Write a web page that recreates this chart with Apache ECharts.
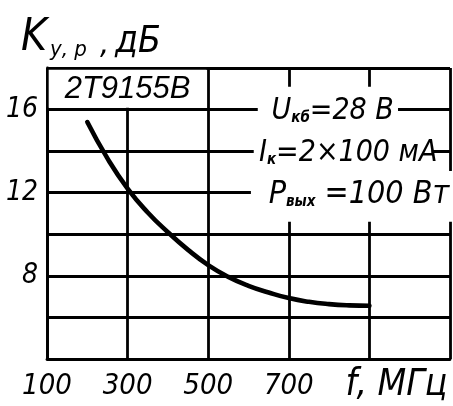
<!DOCTYPE html>
<html><head><meta charset="utf-8">
<script src="https://cdn.jsdelivr.net/npm/echarts@6/dist/echarts.min.js"></script>
<style>html,body{margin:0;padding:0;background:#fff}#c{width:453px;height:406px}</style>
</head><body><div id="c"></div>
<script>
// ---- data ----
const freqMHz = [200, 250, 300, 350, 400, 450, 500, 550, 600, 650, 700, 750, 800, 850, 900];
const gainDb  = [15.4, 13.65, 12.2, 11.05, 10.1, 9.25, 8.52, 7.95, 7.52, 7.2, 6.93, 6.75, 6.64, 6.58, 6.56];
const xTickLabels = ['100', '300', '500', '700'];
const yTickLabels = ['8', '12', '16'];
const deviceLabel = '2Т9155В';
const conditions = [
  {main1: 'U', sub: 'кб', main2: '=28 В'},
  {main1: 'I', sub: 'к', main2: '=2×100 мА'},
  {main1: 'P', sub: 'вых', main2: ' =100 Вт'}
];
const xAxisName = 'f, МГц';

const FONT = "'DejaVu Sans Condensed','Liberation Sans',sans-serif";
const chart = echarts.init(document.getElementById('c'), null, {renderer: 'canvas'});
const lineStyle = {color: '#000', width: 2.8};

chart.setOption({
  animation: false,
  backgroundColor: '#fff',
  grid: {left: 47, top: 68, bottom: 47, right: -5, containLabel: false},
  xAxis: {
    type: 'value', min: 100, max: 1100, interval: 200,
    axisLine: {show: true, lineStyle: lineStyle},
    axisTick: {show: false},
    splitLine: {show: true, lineStyle: lineStyle},
    axisLabel: {
      margin: 13, color: '#000', fontSize: 29, fontStyle: 'italic', fontFamily: FONT,
      formatter: v => xTickLabels.includes(String(v)) ? String(v) : ''
    }
  },
  yAxis: {
    type: 'value', min: 4, max: 18, interval: 2,
    axisLine: {show: true, lineStyle: lineStyle},
    axisTick: {show: false},
    splitLine: {show: true, lineStyle: lineStyle},
    axisLabel: {
      margin: 9, color: '#000', fontSize: 28, fontStyle: 'italic', fontFamily: FONT,
      formatter: v => yTickLabels.includes(String(v)) ? String(v) : ''
    }
  },
  series: [{
    type: 'line', smooth: true, symbol: 'none', z: 5,
    lineStyle: {color: '#000', width: 4.6, cap: 'round'},
    data: freqMHz.map((f, i) => [f, gainDb[i]])
  }]
});

function px(x, y) { return chart.convertToPixel({gridIndex: 0}, [x, y]); }
function rectFrom(x0, y0, x1, y1, inset) {
  const a = px(x0, y0), b = px(x1, y1);
  const l = Math.min(a[0], b[0]) + inset, t = Math.min(a[1], b[1]) + inset;
  return {x: l, y: t, width: Math.abs(b[0] - a[0]) - 2 * inset, height: Math.abs(b[1] - a[1]) - 2 * inset};
}

const richMain = {fontSize: 30, fontStyle: 'italic', fontFamily: FONT, color: '#000', verticalAlign: 'bottom'};
const richSub = {fontSize: 15, fontStyle: 'italic', fontWeight: 'bold', fontFamily: FONT, color: '#000', verticalAlign: 'bottom', padding: [0, 0, 1, 0]};

// cover boxes (data coords) and text anchor for each condition row
const condRows = [
  {y: 16, cover: [623, 17.1, 971, 15.02], left: 657, size: 30},
  {y: 14, cover: [613, 15.07, 1054, 13.0], left: 626, size: 30},
  {y: 12, cover: [606, 13.05, 1110, 10.6], left: 650, size: 32}
];

const graphics = [];
// device label cell
graphics.push({type: 'rect', z: 50, shape: rectFrom(100, 18, 500, 16, 1.7), style: {fill: '#fff'}});
const c0 = px(300, 17);
graphics.push({type: 'text', z: 60, x: c0[0], y: c0[1] + 1, style: {
  text: deviceLabel, fontSize: 31, fontStyle: 'italic', fontFamily: "'Liberation Sans',sans-serif",
  fill: '#000', align: 'center', verticalAlign: 'middle'}});

condRows.forEach((r, i) => {
  graphics.push({type: 'rect', z: 50, shape: rectFrom(r.cover[0], r.cover[1], r.cover[2], r.cover[3], 0), style: {fill: '#fff'}});
  const p = px(r.left, r.y);
  const c = conditions[i];
  graphics.push({type: 'text', z: 60, x: p[0], y: p[1] + 2, style: {
    text: '{m|' + c.main1 + '}{s|' + c.sub + '}{m|' + c.main2 + '}',
    rich: {m: Object.assign({}, richMain, {fontSize: r.size}), s: richSub}, align: 'left', verticalAlign: 'middle'}});
});

// axis names
const pf = px(900, 4);
graphics.push({type: 'text', z: 60, x: pf[0] - 24, y: pf[1] + 26, style: {
  text: xAxisName, fontSize: 37, fontStyle: 'italic', fontFamily: FONT, fill: '#000',
  align: 'left', verticalAlign: 'middle'}});
graphics.push({type: 'text', z: 60, left: 21, top: 17, style: {
  text: '{k|K}{s|у, р}{c| ,}{d|дБ}',
  rich: {
    k: {fontSize: 44, fontStyle: 'italic', fontFamily: FONT, color: '#000', verticalAlign: 'bottom'},
    s: {fontSize: 22, fontStyle: 'italic', fontFamily: FONT, color: '#000', verticalAlign: 'bottom', padding: [0, 4, 0, 3]},
    c: {fontSize: 32, fontStyle: 'italic', fontFamily: FONT, color: '#000', verticalAlign: 'bottom'},
    d: {fontSize: 37, fontStyle: 'italic', fontFamily: FONT, color: '#000', verticalAlign: 'bottom', padding: [0, 0, 0, 6]}
  }}});

chart.setOption({graphic: graphics});
</script></body></html>
